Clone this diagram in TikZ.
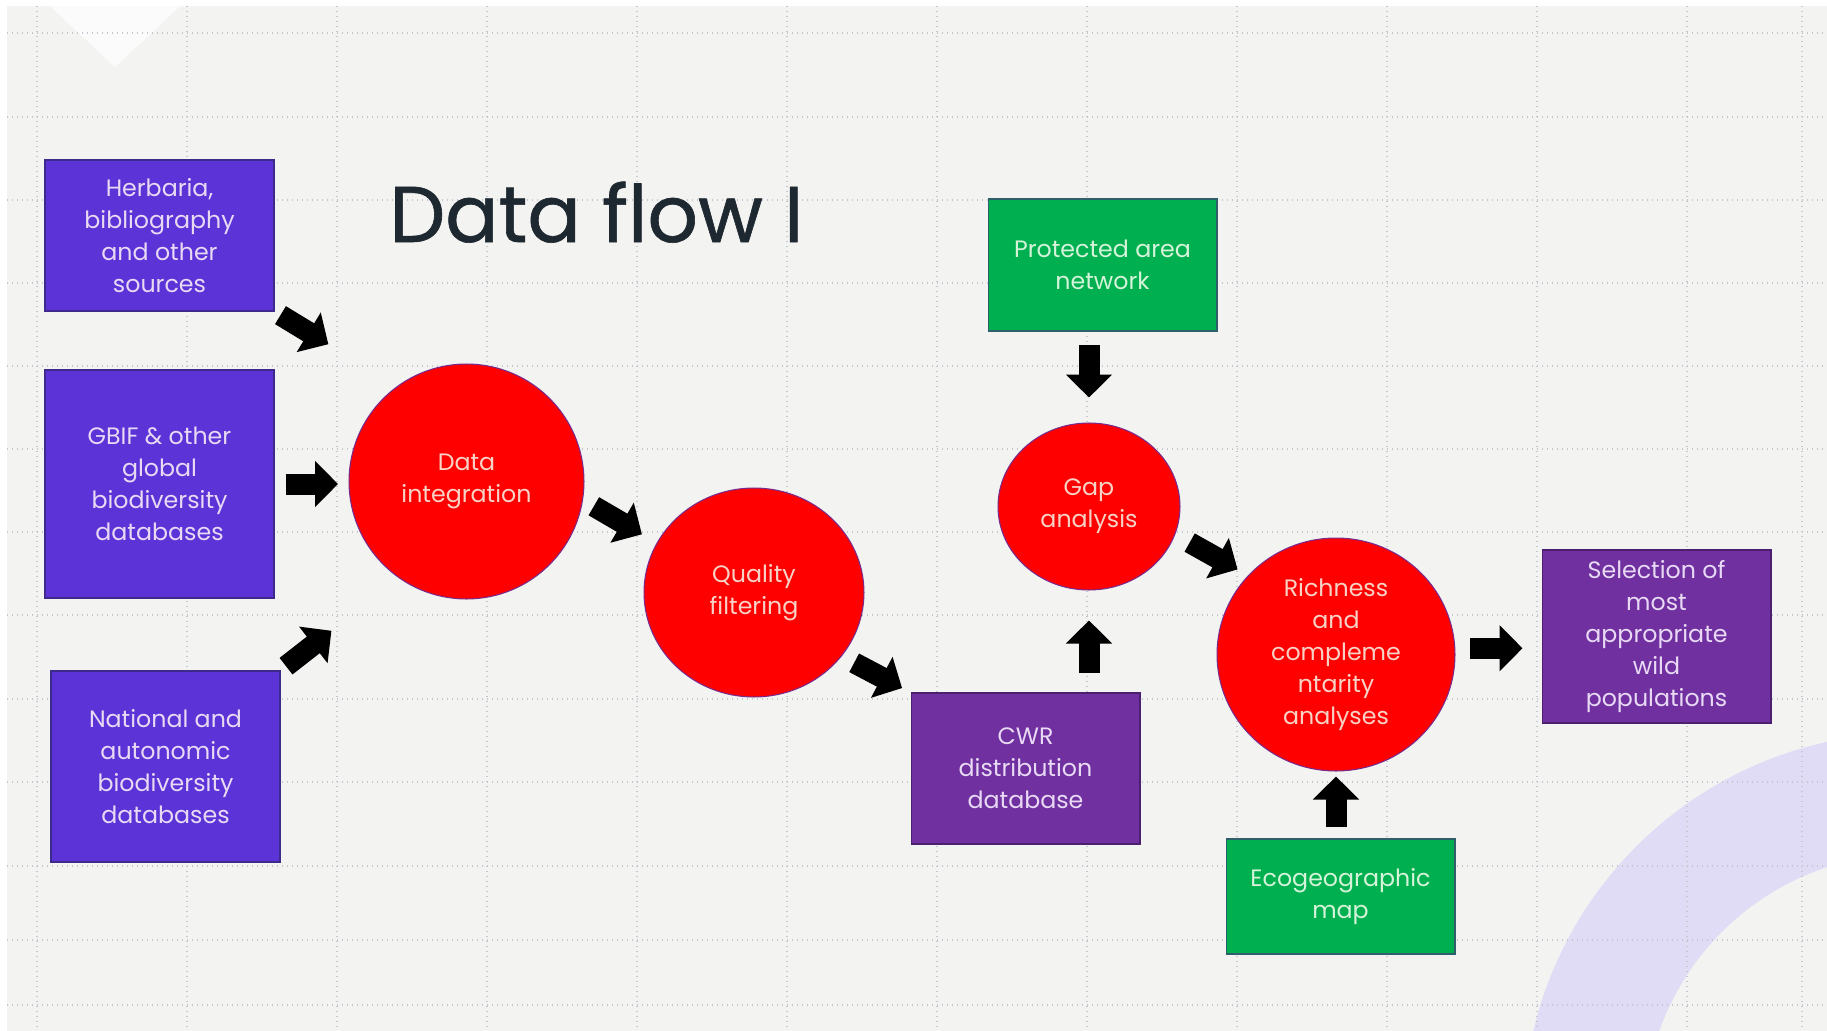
\documentclass[tikz,border=0pt]{standalone}
\usepackage{fontspec}
\setmainfont{Poppins}
\newfontfamily\headfont{Poppins}[FakeBold=0.8]
\usetikzlibrary{shapes.geometric,arrows.meta}

\definecolor{bgcol}{HTML}{F3F3F1}
\definecolor{gridcol}{HTML}{C6C7CE}
\definecolor{ringcol}{HTML}{E1DCF6}
\definecolor{titlecol}{HTML}{1E2830}
\definecolor{srcfill}{HTML}{5C33D6}
\definecolor{srcedge}{HTML}{3E2A8C}
\definecolor{dbfill}{HTML}{7030A0}
\definecolor{dbedge}{HTML}{4B2070}
\definecolor{boxtext}{HTML}{E8D9F4}
\definecolor{stepfill}{HTML}{FF0000}
\definecolor{stepedge}{HTML}{7A2A8A}
\definecolor{steptext}{HTML}{F8D2C6}
\definecolor{layfill}{HTML}{00B050}
\definecolor{layedge}{HTML}{2E5F6A}
\definecolor{laytext}{HTML}{D4F3D8}

\newcommand{\boxfont}{\fontsize{13.5}{18.2}\selectfont}

\tikzset{
  srcbox/.style={rectangle, draw=srcedge, line width=0.6pt, fill=srcfill, text=boxtext,
    align=center, inner sep=0pt, minimum width=4.58cm, font=\boxfont},
  dbbox/.style={srcbox, draw=dbedge, fill=dbfill},
  laybox/.style={srcbox, draw=layedge, fill=layfill, text=laytext},
  stepnode/.style={ellipse, draw=stepedge, line width=0.6pt, fill=stepfill, text=steptext,
    align=center, inner sep=0pt, font=\boxfont},
  blk/.style={black, line width=0.42cm, -{Triangle[width=0.9cm,length=0.46cm]}},
  gridline/.style={gridcol, line width=0.03cm, dash pattern=on 0.03cm off 0.07cm}
}

\begin{document}
\begin{tikzpicture}[x=0.02cm, y=-0.02cm]
\useasboundingbox (0,0) rectangle (1827,1031);
\fill[white] (0,0) rectangle (1827,1031);
\fill[bgcol] (7,6) rectangle (1827,1031);
\fill[white, opacity=0.75] (50,6) -- (180,6) -- (115,67) -- cycle;
\begin{scope}
\clip (0,0) rectangle (1827,1031);
\fill[ringcol, even odd rule] (1910,1120) circle[radius=387] (1910,1120) circle[radius=266];
\end{scope}

% dotted grid
\foreach \gx in {37,187,...,1687,1802}
  \draw[gridline] (\gx,6) -- (\gx,1031);
\foreach \gy in {33,117,200,283,366,449,532,615,699,782,866,940,1005}
  \draw[gridline] (7,\gy) -- (1827,\gy);

\node[anchor=base west, inner sep=0pt, text=titlecol, font=\headfont\fontsize{45}{50}\selectfont] (title) at (389,242) {Data flow I};

% sources
\node[srcbox, minimum height=3.02cm] (herb) at (159.5,235.5) {Herbaria,\\bibliography\\and other\\sources};
\node[srcbox, minimum height=4.56cm] (gbif) at (159.5,484) {GBIF \& other\\global\\biodiversity\\databases};
\node[srcbox, minimum height=3.82cm] (natl) at (165.5,766.5) {National and\\autonomic\\biodiversity\\databases};

% steps
\node[stepnode, minimum width=4.7cm, minimum height=4.7cm] (data) at (466.5,481.5) {Data\\integration};
\node[stepnode, minimum width=4.4cm, minimum height=4.18cm] (quality) at (754,592.5) {Quality\\filtering};
\node[stepnode, minimum width=3.64cm, minimum height=3.34cm] (gap) at (1089,506.5) {Gap\\analysis};
\node[stepnode, minimum width=4.76cm, minimum height=4.66cm] (rich) at (1336,654.5) {Richness\\and\\compleme\\ntarity\\analyses};

% databases and layers
\node[dbbox, minimum height=3.02cm] (cwr) at (1025.5,768.5) {CWR\\distribution\\database};
\node[laybox, minimum height=2.64cm] (prot) at (1102.5,265) {Protected area\\network};
\node[laybox, minimum height=2.3cm] (eco) at (1340.5,896.5) {Ecogeographic\\map};
\node[dbbox, minimum height=3.46cm] (sel) at (1656.5,636.5) {Selection of\\most\\appropriate\\wild\\populations};

% block arrows
\draw[blk, shorten <=0.14cm, shorten >=1.61cm] (herb.south east) -- (data.126);
\draw[blk, shorten <=0.22cm, shorten >=0.21cm] (gbif.east) -- (gbif.east -| data.west);
\draw[blk, shorten <=0.14cm, shorten >=1.71cm] (natl.north east) -- (data.235);
\draw[blk, shorten <=0.25cm, shorten >=0.34cm] (data.-9) -- (quality.153);
\draw[blk, shorten <=0.28cm, shorten >=0.19cm] (quality.-36) -- (cwr.north west);
\draw[blk, shorten <=0.39cm, shorten >=0.6cm] (cwr.north -| gap.south) -- (gap.south);
\draw[blk, shorten <=0.26cm, shorten >=0.5cm] (prot.south -| gap.north) -- (gap.north);
\draw[blk, shorten <=0.33cm, shorten >=0.24cm] (gap.-18) -- (rich.138);
\draw[blk, shorten <=0.22cm, shorten >=0.1cm] (eco.north -| rich.south) -- (rich.south);
\draw[blk, shorten <=0.3cm, shorten >=0.38cm] (rich.3) -- (rich.3 -| sel.west);
\end{tikzpicture}
\end{document}
